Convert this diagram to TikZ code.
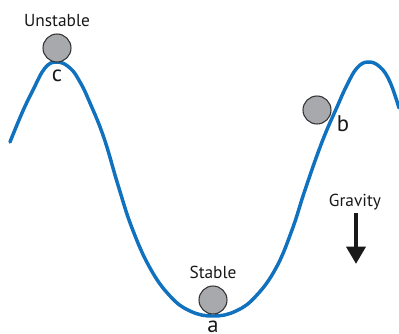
\documentclass[tikz,border=0pt]{standalone}
\usepackage{fontspec}
\setmainfont{PT Sans}
\usepackage{tikz}
\usetikzlibrary{arrows.meta,positioning}

\definecolor{trackblue}{RGB}{16,114,190}
\definecolor{ballgray}{RGB}{168,169,173}

\begin{document}
\begin{tikzpicture}[
    x=0.75pt, y=-0.75pt,
    track/.style={draw=trackblue, line width=2.6pt, line cap=round, line join=round},
    ball/.style={circle, draw=black!80, line width=0.8pt, fill=ballgray, minimum size=21pt, inner sep=0pt},
    label/.style={font=\fontsize{13}{15}\selectfont, text=black!90, inner sep=1pt},
    tag/.style={label, font=\fontsize{17}{19}\selectfont},
    gravityarrow/.style={-{Triangle[length=13pt, width=14pt]}, line width=3.6pt, draw=black!90}
]
    \useasboundingbox (0,0) rectangle (399,333);

    % --- TRACK ---
    \draw[track] plot[smooth, tension=0.7] coordinates {
        (10,142) (22,113) (33,90) (45,68) (57,62) (70,68) (80,82) (90,103)
        (104,138) (118,185) (132,228) (150,268) (170,296) (190,311)
        (213,316) (236,311) (256,296) (276,268) (292,230) (305,190)
        (322,142) (337,107) (347,85) (357,68) (368,62) (380,67) (390,82) (399,108)};

    % --- BALLS ---
    \node[ball] (BallC) at (57,48) {};
    \node[label, above=4pt of BallC] (Unstable) {Unstable};
    \node[tag] (LabelC) at (57,76) {c};

    \node[ball] (BallB) at (317,110) {};
    \node[tag] (LabelB) at (343,124) {b};

    \node[ball] (BallA) at (213,300) {};
    \node[label, above=4pt of BallA] (Stable) {Stable};
    \node[tag] (LabelA) at (213,327) {a};

    % --- GRAVITY ---
    \node[label] (Gravity) at (355,202) {Gravity};
    \coordinate (GravTop) at (356,213);
    \coordinate (GravEnd) at (356,264);
    \draw[gravityarrow] (GravTop) -- (GravEnd);

\end{tikzpicture}
\end{document}
